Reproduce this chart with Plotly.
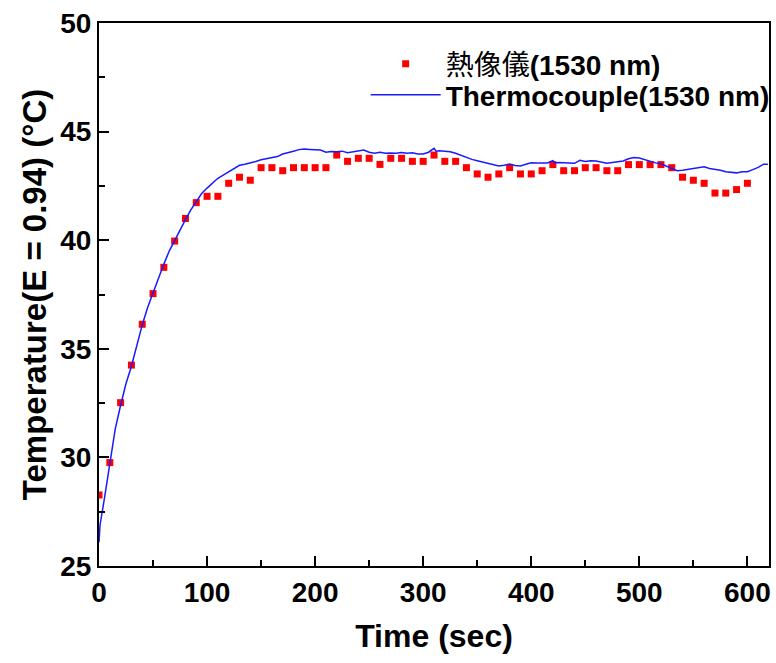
import plotly.graph_objects as go

# Thermal camera readings (every 10 s)
cam_time = list(range(0, 601, 10))
cam_temp = [
    28.27, 29.76, 32.52, 34.25, 36.13, 37.54, 38.75, 39.96, 41.00, 41.73,
    42.02, 42.02, 42.62, 42.90, 42.76, 43.34, 43.34, 43.20, 43.34, 43.34,
    43.34, 43.34, 43.92, 43.63, 43.77, 43.77, 43.49, 43.77, 43.77, 43.63,
    43.63, 43.92, 43.63, 43.63, 43.34, 43.05, 42.90, 43.05, 43.34, 43.05,
    43.05, 43.20, 43.48, 43.20, 43.20, 43.34, 43.34, 43.20, 43.20, 43.48,
    43.48, 43.48, 43.48, 43.34, 42.90, 42.76, 42.62, 42.17, 42.17, 42.33,
    42.62,
]

# Thermocouple trace
tc_time = [
    0, 1, 5, 10, 15, 20, 25, 30, 35, 40, 45, 50, 55, 60, 65, 70, 75, 80, 85, 90,
    95, 100, 105, 110, 115, 120, 125, 130, 135, 140, 145, 150, 155, 160, 165, 170,
    175, 180, 185, 190, 195, 200, 205, 210, 215, 220, 225, 230, 235, 240, 245, 250,
    255, 260, 265, 270, 275, 280, 285, 290, 295, 300, 305, 310, 312, 315, 320, 325,
    330, 335, 340, 345, 350, 355, 360, 365, 370, 375, 380, 385, 390, 395, 400, 405,
    410, 415, 420, 422, 425, 430, 435, 440, 445, 450, 455, 460, 465, 470, 475, 480,
    485, 490, 495, 500, 505, 510, 515, 520, 525, 530, 535, 540, 545, 550, 555, 560,
    565, 570, 575, 580, 585, 590, 595, 600, 605, 610, 615, 619,
]
tc_temp = [
    26.10, 26.90, 28.10, 29.80, 31.30, 32.40, 33.40, 34.20, 35.20, 36.10,
    36.90, 37.60, 38.20, 38.90, 39.50, 40.00, 40.50, 40.95, 41.40, 41.80,
    42.15, 42.40, 42.62, 42.85, 43.00, 43.15, 43.30, 43.45, 43.50, 43.55,
    43.62, 43.70, 43.75, 43.80, 43.85, 43.97, 44.05, 44.10, 44.17, 44.20,
    44.18, 44.17, 44.15, 44.05, 44.08, 44.07, 44.10, 44.03, 44.06, 44.10,
    44.15, 44.05, 44.00, 44.05, 44.00, 44.02, 44.00, 44.04, 44.00, 44.03,
    43.97, 43.97, 44.05, 44.23, 44.10, 44.12, 44.10, 44.07, 44.00, 43.90,
    43.82, 43.72, 43.66, 43.60, 43.55, 43.50, 43.42, 43.45, 43.51, 43.44,
    43.42, 43.50, 43.57, 43.55, 43.54, 43.56, 43.66, 43.56, 43.58, 43.58,
    43.55, 43.54, 43.68, 43.62, 43.66, 43.65, 43.60, 43.54, 43.58, 43.61,
    43.65, 43.75, 43.81, 43.78, 43.70, 43.62, 43.56, 43.52, 43.42, 43.30,
    43.20, 43.22, 43.26, 43.30, 43.35, 43.38, 43.30, 43.27, 43.22, 43.15,
    43.12, 43.10, 43.15, 43.15, 43.25, 43.35, 43.50, 43.50,
]

FONT = "Liberation Sans, Arial, Noto Sans CJK TC, sans-serif"

fig = go.Figure()
fig.add_trace(go.Scatter(
    x=cam_time, y=cam_temp, mode="markers", name="熱像儀<b>(1530 nm)</b>",
    marker=dict(symbol="square", size=7, color="#ff0000", line=dict(width=0)),
    legend="legend", showlegend=True,
))
fig.add_trace(go.Scatter(
    x=tc_time, y=tc_temp, mode="lines", name="<b>Thermocouple(1530 nm)</b>",
    line=dict(color="#1a1aff", width=1.5),
    legend="legend2", showlegend=True,
))

axis_common = dict(
    showline=True, linecolor="black", linewidth=2, mirror=True,
    ticks="inside", ticklen=10, tickwidth=2, tickcolor="black",
    showgrid=False, zeroline=False,
    tickfont=dict(family=FONT, size=28, color="black", weight="bold"),
)

fig.update_xaxes(
    range=[0, 620], dtick=100, tick0=0,
    minor=dict(ticks="inside", dtick=50, ticklen=6, tickwidth=2, tickcolor="black"),
    title=dict(text="Time (sec)", font=dict(family=FONT, size=32, color="black", weight="bold"),
               standoff=18),
    **axis_common,
)
fig.update_yaxes(
    range=[25, 50], dtick=5, tick0=25,
    minor=dict(ticks="inside", dtick=2.5, ticklen=6, tickwidth=2, tickcolor="black"),
    title=dict(text="Temperature(E = 0.94) (°C)",
               font=dict(family=FONT, size=33, color="black", weight="bold"), standoff=4),
    **axis_common,
)

legend_common = dict(
    xanchor="left", yanchor="middle",
    bgcolor="rgba(0,0,0,0)", borderwidth=0,
    font=dict(family=FONT, size=28, color="black"),
    itemwidth=70,
)
fig.update_layout(
    width=776, height=663,
    margin=dict(l=99, r=7, t=23, b=97, autoexpand=False),
    paper_bgcolor="white", plot_bgcolor="white",
    font=dict(family=FONT, color="black"),
    showlegend=True,
    legend=dict(x=0.398, y=(566 - 64) / 543, **legend_common),
    legend2=dict(x=0.398, y=(566 - 95) / 543, **legend_common),
)

fig.write_html("out.html")
